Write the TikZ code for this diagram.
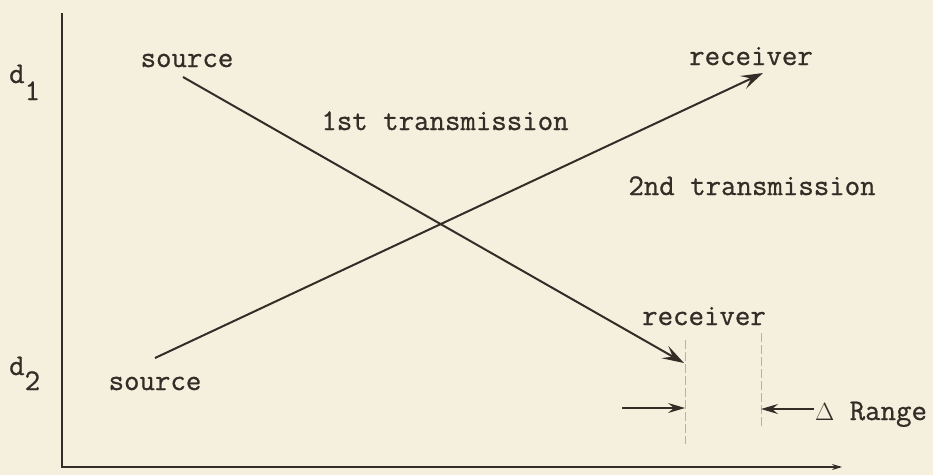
\documentclass[tikz,border=0pt]{standalone}
\usepackage{fontspec}
\setmonofont{Latin Modern Mono}[FakeBold=0.8]
\usetikzlibrary{arrows.meta}
\definecolor{paper}{RGB}{245,240,222}
\definecolor{ink}{RGB}{52,44,38}
\tikzset{
  txt/.style={font=\ttfamily\fontsize{30}{34}\selectfont, text=ink, inner sep=0pt, anchor=base},
  ray/.style={ink, line width=2pt, -{Stealth[length=22pt,width=14pt,inset=9pt]}},
  tick/.style={gray!60, line width=1pt, dash pattern=on 9pt off 3pt},
  small/.style={ink, line width=1.6pt, -{Stealth[length=17pt,width=10pt,inset=6pt]}}
}
\begin{document}
\begin{tikzpicture}[x=1pt, y=-1pt]
    \fill[paper] (0,0) rectangle (933,475);
    \useasboundingbox (0,0) rectangle (933,475);

    % axes
    \draw[ink, line width=2.4pt] (62,13) -- (62,467)
      -- (840,467);
    \draw[ink, line width=1.4pt, -{Stealth[length=10pt,width=6pt]}] (820,467) -- (842,467);

    \node[txt, anchor=base west] (d1) at (9,83) {d\raisebox{-17pt}{1}};
    \node[txt, anchor=base west] (d2) at (9,375) {d\raisebox{-15pt}{2}};

    % ends of the two paths
    \node[txt] (src1) at (187,67) {source};
    \node[txt] (rcv1) at (751,65) {receiver};
    \node[txt] (src2) at (155,390) {source};
    \node[txt] (rcv2) at (704,325) {receiver};

    \node[txt] (tx1) at (445,130) {1st transmission};
    \node[txt] (tx2) at (752,195) {2nd transmission};

    \coordinate (a1) at (183,77);
    \coordinate (b1) at (684,363);
    \coordinate (a2) at (155,358);
    \coordinate (b2) at (763,73);

    \draw[ray] (a1) -- (b1);
    \draw[ray] (a2) -- (b2);

    % range offset
    \coordinate (m1) at (685,340);
    \coordinate (m1e) at (685,444);
    \coordinate (m2) at (761,333);
    \coordinate (m2e) at (761,428);
    \draw[tick] (m1) -- (m1e);
    \draw[tick] (m2) -- (m2e);

    \node[txt] (rng) at (871,420) {$\Delta$ Range};
    \coordinate (p1) at (622,408);
    \coordinate (p2) at (814,409);
    \draw[small] (p1) -- (m1 |- p1);
    \draw[small] (p2) -- (m2 |- p2);
\end{tikzpicture}
\end{document}
